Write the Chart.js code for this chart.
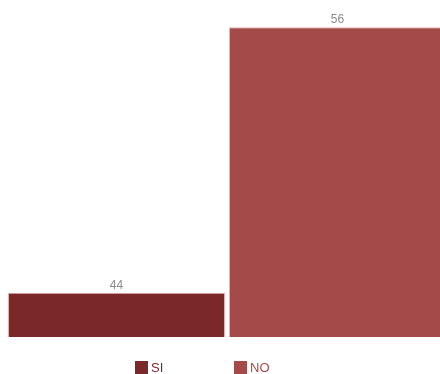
<!DOCTYPE html>
<html>
<head>
<meta charset="utf-8">
<script src="https://cdn.jsdelivr.net/npm/chart.js@4"></script>
<style>
  html, body { margin: 0; padding: 0; background: #fff; overflow: hidden; }
  #wrap { position: relative; width: 454px; height: 374px; }
</style>
</head>
<body>
<div id="wrap"><canvas id="answers"></canvas></div>
<script>
const categories = ['']
const seriesNames = ['SI', 'NO']
const siValues = [44]
const noValues = [56]
const seriesColors = ['#7b282b', '#a44b4a']

// value printed above each bar
const barValues = {
    id: 'barValues',
    afterDatasetsDraw(chart) {
        const { ctx } = chart
        ctx.save()
        ctx.font = '12px "Liberation Sans", Arial, sans-serif'
        ctx.fillStyle = '#8a8a8a'
        ctx.textAlign = 'center'
        ctx.textBaseline = 'bottom'
        chart.data.datasets.forEach((ds, i) => {
            chart.getDatasetMeta(i).data.forEach((bar, j) => {
                ctx.fillText(ds.data[j], bar.x, bar.y - 1)
            })
        })
        ctx.restore()
    }
}

// small legend under the bars, text in the series colour
const bottomLegend = {
    id: 'bottomLegend',
    afterDraw(chart) {
        const { ctx } = chart
        ctx.save()
        ctx.font = '13px "Liberation Sans", Arial, sans-serif'
        ctx.textBaseline = 'middle'
        let x = 135
        chart.data.datasets.forEach(ds => {
            ctx.fillStyle = ds.backgroundColor
            ctx.fillRect(x, 361, 13, 13)
            ctx.fillText(ds.label, x + 16, 368.5)
            x += 99
        })
        ctx.restore()
    }
}

new Chart(document.getElementById('answers'), {
    type: 'bar',
    data: {
        labels: categories,
        datasets: [
            { label: seriesNames[0], data: siValues, backgroundColor: seriesColors[0] },
            { label: seriesNames[1], data: noValues, backgroundColor: seriesColors[1] }
        ]
    },
    plugins: [barValues, bottomLegend],
    options: {
        responsive: true,
        maintainAspectRatio: false,
        animation: false,
        layout: { padding: { left: 6, right: 6, top: 5, bottom: 37 } },
        datasets: {
            bar: {
                categoryPercentage: 1,
                barPercentage: 0.982,
                borderWidth: 1,
                borderColor: '#e6b4ae'
            }
        },
        scales: {
            x: { display: false },
            y: { display: false, min: 42, max: 57 }
        },
        plugins: {
            legend: { display: false },
            tooltip: { enabled: false }
        }
    }
})
</script>
</body>
</html>
